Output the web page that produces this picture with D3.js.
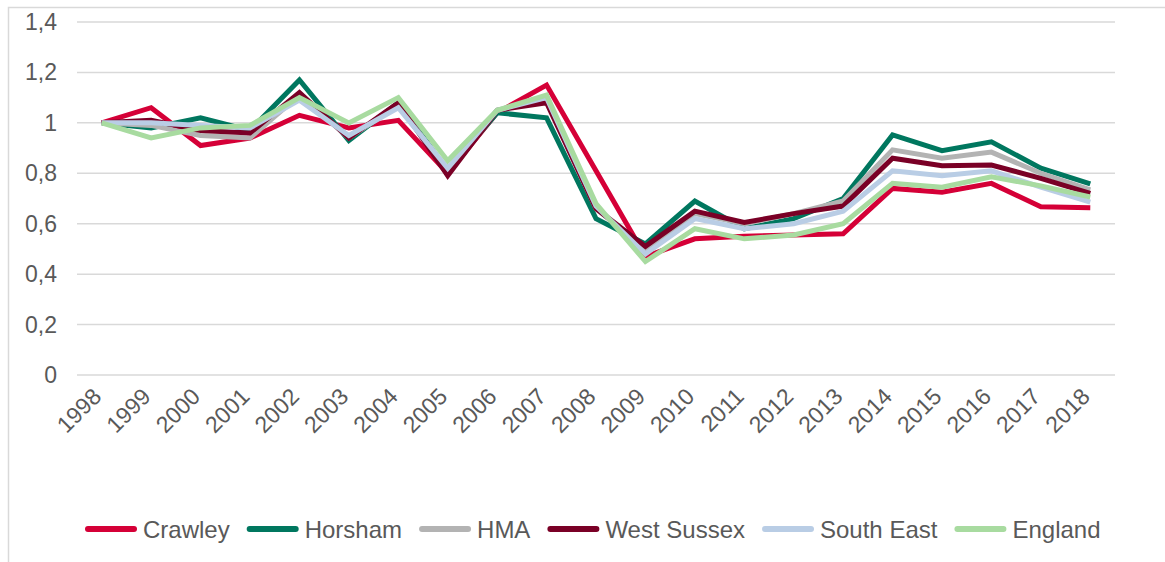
<!DOCTYPE html>
<html><head><meta charset="utf-8">
<script src="https://cdn.jsdelivr.net/npm/d3@7"></script>
<style>body{margin:0;background:#fff}svg{display:block}text{font-family:"Liberation Sans",Arial,sans-serif;fill:#595959}</style>
</head><body><svg id="c" width="1165" height="562"></svg>
<script>
const years = ["1998","1999","2000","2001","2002","2003","2004","2005","2006","2007","2008","2009","2010","2011","2012","2013","2014","2015","2016","2017","2018"];
const yTicks = [0,0.2,0.4,0.6,0.8,1,1.2,1.4];
const seriesNames = ["Crawley","Horsham","HMA","West Sussex","South East","England"];
const seriesColors = ["#d50037","#00775f","#b3b3b3","#7a0026","#b9cde5","#a8dba0"];
const crawley    = [1.00,1.06,0.91,0.94,1.03,0.98,1.01,0.80,1.04,1.15,0.81,0.47,0.54,0.55,0.555,0.56,0.74,0.725,0.76,0.667,0.663];
const horsham    = [1.00,0.98,1.02,0.97,1.17,0.93,1.08,0.81,1.04,1.02,0.62,0.52,0.69,0.58,0.62,0.70,0.952,0.89,0.925,0.82,0.758];
const hma        = [1.00,0.99,0.95,0.94,1.11,0.94,1.07,0.81,1.05,1.09,0.66,0.50,0.64,0.60,0.64,0.69,0.893,0.86,0.884,0.80,0.734];
const westSussex = [1.00,1.01,0.97,0.96,1.12,0.94,1.08,0.79,1.05,1.08,0.66,0.51,0.65,0.605,0.64,0.67,0.86,0.83,0.833,0.78,0.72];
const southEast  = [1.00,1.00,0.99,0.98,1.09,0.95,1.06,0.82,1.05,1.10,0.67,0.48,0.62,0.58,0.60,0.65,0.81,0.79,0.81,0.745,0.686];
const england    = [1.00,0.94,0.98,0.99,1.10,1.00,1.10,0.85,1.05,1.11,0.68,0.45,0.58,0.54,0.555,0.60,0.76,0.745,0.786,0.75,0.706];
const seriesValues = [crawley,horsham,hma,westSussex,southEast,england];

const svg = d3.select("#c");
svg.append("rect").attr("x",8.5).attr("y",7.5).attr("width",1200).attr("height",600)
  .attr("fill","none").attr("stroke","#d9d9d9").attr("stroke-width",1.5);

const x = d3.scalePoint().domain(years).range([77,1115]).padding(0.5);
const y = d3.scaleLinear().domain([0,1.4]).range([375,22]);

svg.append("g").selectAll("line").data(yTicks).join("line")
  .attr("x1",77).attr("x2",1115).attr("y1",d=>y(d)).attr("y2",d=>y(d))
  .attr("stroke","#d9d9d9").attr("stroke-width",1.5);

const fmt = d => d===0 ? "0" : (d===1 ? "1" : d3.format(".1f")(d).replace(".",","));
svg.append("g").selectAll("text").data(yTicks).join("text")
  .attr("x",57).attr("y",d=>y(d)+8).attr("text-anchor","end")
  .style("font-size","23px").text(fmt);

svg.append("g").selectAll("text").data(years).join("text")
  .attr("text-anchor","end")
  .attr("transform",d=>`translate(${x(d)+1},${398}) rotate(-45)`)
  .style("font-size","23px").text(d=>d);

const line = d3.line().x((d,i)=>x(years[i])).y(d=>y(d));
svg.append("g").selectAll("path").data(seriesValues).join("path")
  .attr("d",d=>line(d)).attr("fill","none")
  .attr("stroke",(d,i)=>seriesColors[i]).attr("stroke-width",5)
  .attr("stroke-linejoin","miter").attr("stroke-linecap","butt");

const lg = svg.append("g");
let lx = 85;
seriesNames.forEach((n,i)=>{
  lg.append("line").attr("x1",lx+3).attr("x2",lx+49).attr("y1",529).attr("y2",529)
    .attr("stroke",seriesColors[i]).attr("stroke-width",6).attr("stroke-linecap","round");
  const t = lg.append("text").attr("x",lx+58).attr("y",537.5).style("font-size","24px").text(n);
  lx = lx + 58 + t.node().getComputedTextLength() + 17;
});
</script></body></html>
